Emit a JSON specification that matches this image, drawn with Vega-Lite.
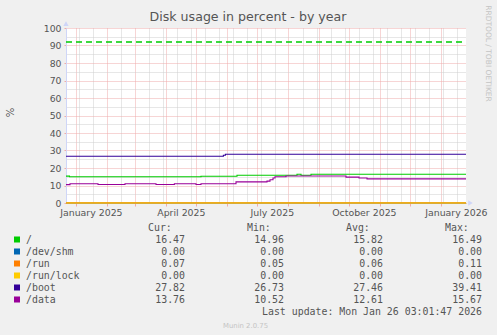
{
  "$schema": "https://vega.github.io/schema/vega-lite/v6.json",
  "width": 400,
  "height": 175,
  "autosize": {"type": "none"},
  "padding": {"left": 66, "top": 28, "right": 31, "bottom": 132},
  "background": "#f0f0f0",
  "config": {"view": {"fill": "#ffffff", "stroke": null}, "font": "DejaVu Sans"},
  "title": {"text": "Disk usage in percent - by year", "fontSize": 12.6, "fontWeight": "normal", "color": "#555555", "font": "DejaVu Sans", "anchor": "middle", "dx": -18, "dy": 23},
  "datasets": {
    "series": [
      {"date": "2024-12-22T03:00:00Z", "series": "/", "value": 15.35},
      {"date": "2024-12-25T15:00:00Z", "series": "/", "value": 14.96},
      {"date": "2025-05-06T03:00:00Z", "series": "/", "value": 15.3},
      {"date": "2025-06-11T03:00:00Z", "series": "/", "value": 15.85},
      {"date": "2025-08-10T03:00:00Z", "series": "/", "value": 16.45},
      {"date": "2025-08-14T03:00:00Z", "series": "/", "value": 15.85},
      {"date": "2025-08-24T03:00:00Z", "series": "/", "value": 16.47},
      {"date": "2026-01-26T03:00:00Z", "series": "/", "value": 16.47},
      {"date": "2024-12-22T03:00:00Z", "series": "/dev/shm", "value": 0},
      {"date": "2026-01-26T03:00:00Z", "series": "/dev/shm", "value": 0},
      {"date": "2024-12-22T03:00:00Z", "series": "/run", "value": 0.06},
      {"date": "2026-01-26T03:00:00Z", "series": "/run", "value": 0.07},
      {"date": "2024-12-22T03:00:00Z", "series": "/run/lock", "value": 0},
      {"date": "2026-01-26T03:00:00Z", "series": "/run/lock", "value": 0},
      {"date": "2024-12-22T03:00:00Z", "series": "/boot", "value": 26.73},
      {"date": "2025-05-28T12:00:00Z", "series": "/boot", "value": 27.3},
      {"date": "2025-05-30T12:00:00Z", "series": "/boot", "value": 27.82},
      {"date": "2026-01-26T03:00:00Z", "series": "/boot", "value": 27.82},
      {"date": "2024-12-22T03:00:00Z", "series": "/data", "value": 10.52},
      {"date": "2024-12-26T03:00:00Z", "series": "/data", "value": 11.0},
      {"date": "2025-01-23T03:00:00Z", "series": "/data", "value": 10.55},
      {"date": "2025-02-19T03:00:00Z", "series": "/data", "value": 11.0},
      {"date": "2025-03-22T03:00:00Z", "series": "/data", "value": 10.55},
      {"date": "2025-04-09T12:00:00Z", "series": "/data", "value": 11.0},
      {"date": "2025-05-01T03:00:00Z", "series": "/data", "value": 10.55},
      {"date": "2025-05-06T03:00:00Z", "series": "/data", "value": 11.0},
      {"date": "2025-06-10T03:00:00Z", "series": "/data", "value": 12.1},
      {"date": "2025-07-11T03:00:00Z", "series": "/data", "value": 12.5},
      {"date": "2025-07-14T03:00:00Z", "series": "/data", "value": 13.3},
      {"date": "2025-07-17T03:00:00Z", "series": "/data", "value": 14.3},
      {"date": "2025-07-19T03:00:00Z", "series": "/data", "value": 15.0},
      {"date": "2025-07-30T03:00:00Z", "series": "/data", "value": 15.4},
      {"date": "2025-09-28T03:00:00Z", "series": "/data", "value": 14.8},
      {"date": "2025-10-11T03:00:00Z", "series": "/data", "value": 14.3},
      {"date": "2025-10-19T03:00:00Z", "series": "/data", "value": 13.76},
      {"date": "2026-01-26T03:00:00Z", "series": "/data", "value": 13.76}
    ],
    "legend": [
      {"series": "/", "Cur": 16.47, "Min": 14.96, "Avg": 15.82, "Max": 16.49},
      {"series": "/dev/shm", "Cur": 0, "Min": 0, "Avg": 0, "Max": 0},
      {"series": "/run", "Cur": 0.07, "Min": 0.05, "Avg": 0.06, "Max": 0.11},
      {"series": "/run/lock", "Cur": 0, "Min": 0, "Avg": 0, "Max": 0},
      {"series": "/boot", "Cur": 27.82, "Min": 26.73, "Avg": 27.46, "Max": 39.41},
      {"series": "/data", "Cur": 13.76, "Min": 10.52, "Avg": 12.61, "Max": 15.67}
    ],
    "headers": [
      {"stat": "Cur", "text": "Cur:"},
      {"stat": "Min", "text": "Min:"},
      {"stat": "Avg", "text": "Avg:"},
      {"stat": "Max", "text": "Max:"}
    ]
  },
  "layer": [
    {
      "layer": [
        {
          "data": {"name": "series"},
          "mark": {"type": "line", "interpolate": "step-after", "strokeWidth": 1.1},
          "encoding": {
            "x": {
              "field": "date", "type": "temporal",
              "scale": {"type": "utc", "domain": [{"year": 2024, "month": 12, "date": 22, "hours": 3, "utc": true}, {"year": 2026, "month": 1, "date": 26, "hours": 3, "utc": true}]},
              "axis": {
                "orient": "bottom", "offset": 0,
                "grid": true, "gridColor": "#cfcfcf", "gridDash": [1, 1], "gridWidth": 1,
                "labels": false, "ticks": false, "domain": false, "title": null,
                "values": [
                  {"year": 2025, "month": 1, "date": 4, "utc": true},
                  {"year": 2025, "month": 1, "date": 18, "utc": true},
                  {"year": 2025, "month": 2, "date": 15, "utc": true},
                  {"year": 2025, "month": 3, "date": 15, "utc": true},
                  {"year": 2025, "month": 3, "date": 29, "utc": true},
                  {"year": 2025, "month": 4, "date": 12, "utc": true},
                  {"year": 2025, "month": 4, "date": 26, "utc": true},
                  {"year": 2025, "month": 5, "date": 10, "utc": true},
                  {"year": 2025, "month": 5, "date": 24, "utc": true},
                  {"year": 2025, "month": 6, "date": 7, "utc": true},
                  {"year": 2025, "month": 6, "date": 21, "utc": true},
                  {"year": 2025, "month": 7, "date": 5, "utc": true},
                  {"year": 2025, "month": 7, "date": 19, "utc": true},
                  {"year": 2025, "month": 8, "date": 16, "utc": true},
                  {"year": 2025, "month": 8, "date": 30, "utc": true},
                  {"year": 2025, "month": 9, "date": 13, "utc": true},
                  {"year": 2025, "month": 9, "date": 27, "utc": true},
                  {"year": 2025, "month": 10, "date": 11, "utc": true},
                  {"year": 2025, "month": 10, "date": 25, "utc": true},
                  {"year": 2025, "month": 11, "date": 8, "utc": true},
                  {"year": 2025, "month": 11, "date": 22, "utc": true},
                  {"year": 2025, "month": 12, "date": 6, "utc": true},
                  {"year": 2025, "month": 12, "date": 20, "utc": true},
                  {"year": 2026, "month": 1, "date": 3, "utc": true},
                  {"year": 2026, "month": 1, "date": 17, "utc": true}
                ]
              }
            },
            "y": {
              "field": "value", "type": "quantitative",
              "scale": {"domain": [0, 100], "nice": false, "zero": false},
              "axis": {"orient": "left", "offset": 0, "grid": true, "gridColor": "#cfcfcf", "gridDash": [1, 1], "labels": false, "ticks": false, "domain": false, "title": null, "values": [5, 15, 25, 35, 45, 55, 65, 75, 85, 95]}
            },
            "color": {
              "field": "series", "type": "nominal",
              "scale": {"domain": ["/", "/dev/shm", "/run", "/run/lock", "/boot", "/data"], "range": ["#00cc00", "#0066b3", "#ff8000", "#ffcc00", "#330099", "#990099"]},
              "legend": null
            }
          }
        },
        {
          "data": {"values": [{}]},
          "mark": {"type": "rule", "color": "#00cc00", "strokeDash": [6, 4], "strokeWidth": 1.4},
          "encoding": {
            "x": {
              "datum": {"year": 2024, "month": 12, "date": 22, "hours": 3, "utc": true}, "type": "temporal",
              "axis": {
                "orient": "bottom", "offset": 0,
                "grid": true, "gridColor": "#efaaaa", "gridDash": [1, 1], "labels": false,
                "ticks": true, "tickColor": "#efaaaa", "tickSize": 3, "domain": false,
                "title": "Munin 2.0.75", "titleX": 179, "titleY": 122, "titleColor": "#c4c4c4", "titleFontSize": 6.9, "titleFontWeight": "normal", "titleFont": "DejaVu Sans", "titleBaseline": "middle", "titleAlign": "center",
                "values": [
                  {"year": 2025, "month": 1, "date": 1, "utc": true},
                  {"year": 2025, "month": 2, "date": 1, "utc": true},
                  {"year": 2025, "month": 3, "date": 1, "utc": true},
                  {"year": 2025, "month": 4, "date": 1, "utc": true},
                  {"year": 2025, "month": 5, "date": 1, "utc": true},
                  {"year": 2025, "month": 6, "date": 1, "utc": true},
                  {"year": 2025, "month": 7, "date": 1, "utc": true},
                  {"year": 2025, "month": 8, "date": 1, "utc": true},
                  {"year": 2025, "month": 9, "date": 1, "utc": true},
                  {"year": 2025, "month": 10, "date": 1, "utc": true},
                  {"year": 2025, "month": 11, "date": 1, "utc": true},
                  {"year": 2025, "month": 12, "date": 1, "utc": true},
                  {"year": 2026, "month": 1, "date": 1, "utc": true}
                ]
              }
            },
            "x2": {"datum": {"year": 2026, "month": 1, "date": 23, "hours": 3, "utc": true}},
            "y": {
              "datum": 92, "type": "quantitative",
              "axis": {
                "orient": "left", "offset": 0,
                "grid": true, "gridColor": "#efaaaa", "gridDash": [1, 1],
                "values": [0, 10, 20, 30, 40, 50, 60, 70, 80, 90, 100],
                "labels": true, "labelColor": "#555555", "labelFont": "DejaVu Sans", "labelFontSize": 9.3, "labelPadding": 3,
                "ticks": true, "tickColor": "#efaaaa", "tickSize": 2,
                "domain": true, "domainColor": "#cfd6f8", "domainWidth": 1,
                "title": "%", "titleX": -56, "titleY": 84, "titleAngle": -90, "titleAlign": "center", "titleBaseline": "middle", "titleColor": "#555555", "titleFontSize": 10, "titleFontWeight": "normal", "titleFont": "DejaVu Sans"
              }
            }
          }
        },
        {
          "data": {"values": [{}]},
          "mark": {"type": "point", "shape": "triangle-up", "filled": true, "size": 28, "color": "#cfd6f8", "opacity": 1},
          "encoding": {
            "x": {
              "datum": {"year": 2024, "month": 12, "date": 22, "hours": 3, "utc": true}, "type": "temporal",
              "axis": {
                "orient": "bottom", "offset": 0,
                "grid": false, "ticks": false, "domain": true, "domainColor": "#cfd6f8", "title": null,
                "labels": true, "labelExpr": "utcFormat(datum.value, '%B %Y')", "labelColor": "#555555", "labelFont": "DejaVu Sans", "labelFontSize": 9.4, "labelPadding": 5, "labelFlush": false, "labelOverlap": false, "labelBound": false,
                "values": [
                  {"year": 2025, "month": 1, "date": 16, "utc": true},
                  {"year": 2025, "month": 4, "date": 16, "utc": true},
                  {"year": 2025, "month": 7, "date": 16, "utc": true},
                  {"year": 2025, "month": 10, "date": 16, "utc": true},
                  {"year": 2026, "month": 1, "date": 16, "utc": true}
                ]
              }
            },
            "y": {"datum": 102.5, "type": "quantitative", "axis": null}
          }
        },
        {
          "data": {"values": [{}]},
          "mark": {"type": "point", "shape": "triangle-right", "filled": true, "size": 28, "color": "#cfd6f8", "opacity": 1},
          "encoding": {
            "x": {"datum": {"year": 2026, "month": 1, "date": 30, "hours": 15, "utc": true}, "type": "temporal", "axis": null},
            "y": {
              "datum": 0, "type": "quantitative",
              "axis": {
                "orient": "right", "offset": 0, "grid": false, "labels": false, "ticks": false, "domain": false,
                "title": "RRDTOOL / TOBI OETIKER", "titleX": 21.5, "titleY": 25, "titleAngle": 90, "titleAlign": "center", "titleBaseline": "middle", "titleColor": "#c4c4c4", "titleFontSize": 7.5, "titleFontWeight": "normal", "titleFont": "DejaVu Sans"
              }
            }
          }
        }
      ],
      "resolve": {"axis": {"x": "independent", "y": "independent"}}
    },
    {
      "layer": [
        {
          "data": {"name": "legend"},
          "transform": [{"fold": ["Cur", "Min", "Avg", "Max"], "as": ["stat", "amount"]}],
          "mark": {"type": "text", "align": "right", "baseline": "middle", "font": "DejaVu Sans Mono", "fontSize": 9.9, "color": "#555555"},
          "encoding": {
            "x": {"field": "stat", "type": "nominal", "scale": {"type": "point", "domain": ["Cur", "Min", "Avg", "Max"], "range": [119, 416], "padding": 0}, "axis": null},
            "y": {"field": "series", "type": "nominal", "scale": {"type": "point", "domain": ["header", "/", "/dev/shm", "/run", "/run/lock", "/boot", "/data", "update"], "range": [199.5, 283.5], "padding": 0}, "axis": null},
            "text": {"field": "amount", "type": "quantitative", "format": ".2f"}
          }
        },
        {
          "data": {"name": "headers"},
          "mark": {"type": "text", "align": "left", "baseline": "middle", "font": "DejaVu Sans Mono", "fontSize": 9.9, "color": "#555555", "dx": -37},
          "encoding": {
            "x": {"field": "stat", "type": "nominal", "axis": null},
            "y": {"datum": "header", "type": "nominal", "axis": null},
            "text": {"field": "text", "type": "nominal"}
          }
        },
        {
          "data": {"values": [{"text": "Last update: Mon Jan 26 03:01:47 2026"}]},
          "mark": {"type": "text", "align": "right", "baseline": "middle", "font": "DejaVu Sans Mono", "fontSize": 9.9, "color": "#555555"},
          "encoding": {
            "x": {"datum": "Max", "type": "nominal", "axis": null},
            "y": {"datum": "update", "type": "nominal", "axis": null},
            "text": {"field": "text", "type": "nominal"}
          }
        }
      ]
    },
    {
      "data": {"name": "legend"},
      "layer": [
        {
          "mark": {"type": "point", "shape": "square", "filled": true, "size": 36, "opacity": 1, "strokeWidth": 0},
          "encoding": {
            "x": {"datum": "box", "type": "nominal", "scale": {"type": "point", "domain": ["box", "label"], "range": [-49, -40], "padding": 0}, "axis": null},
            "y": {"field": "series", "type": "nominal", "scale": {"type": "point", "domain": ["header", "/", "/dev/shm", "/run", "/run/lock", "/boot", "/data", "update"], "range": [199.5, 283.5], "padding": 0}, "axis": null},
            "color": {"field": "series", "type": "nominal", "scale": {"domain": ["/", "/dev/shm", "/run", "/run/lock", "/boot", "/data"], "range": ["#00cc00", "#0066b3", "#ff8000", "#ffcc00", "#330099", "#990099"]}, "legend": null}
          }
        },
        {
          "mark": {"type": "text", "align": "left", "baseline": "middle", "font": "DejaVu Sans Mono", "fontSize": 9.9, "color": "#555555"},
          "encoding": {
            "x": {"datum": "label", "type": "nominal", "axis": null},
            "y": {"field": "series", "type": "nominal", "axis": null},
            "text": {"field": "series", "type": "nominal"}
          }
        }
      ]
    }
  ],
  "resolve": {"scale": {"x": "independent", "y": "independent"}}
}
